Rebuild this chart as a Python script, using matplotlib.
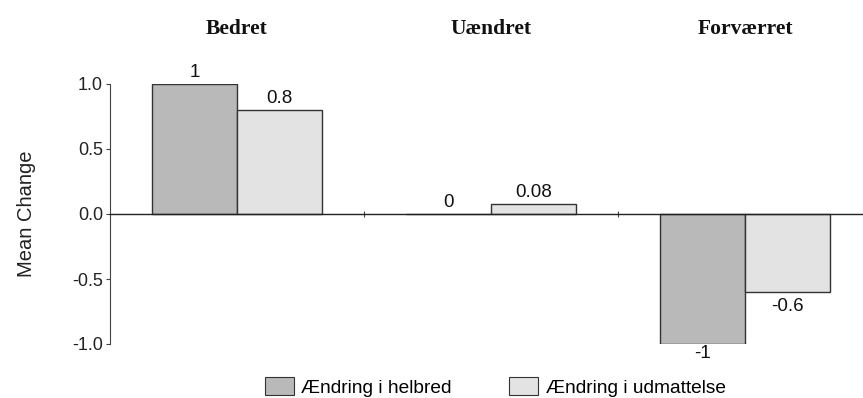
import matplotlib
matplotlib.use("Agg")
import matplotlib.pyplot as plt
import matplotlib.transforms as mtransforms
from matplotlib.patches import Patch
import numpy as np

categories = ["Bedret", "Uændret", "Forværret"]
series_names = ["Ændring i helbred", "Ændring i udmattelse"]
helbred = [1.0, 0.0, -1.0]
udmattelse = [0.8, 0.08, -0.6]
helbred_labels = ["1", "0", "-1"]
udmattelse_labels = ["0.8", "0.08", "-0.6"]
yticks = [-1.0, -0.5, 0.0, 0.5, 1.0]

W, H = 863, 398
fig = plt.figure(figsize=(W / 100, H / 100), dpi=100)
ax_left = 110 / W
ax_bottom = (H - 344) / H
ax_height = 260 / H
ax = fig.add_axes([ax_left, ax_bottom, 1 - ax_left, ax_height])

sans = "Liberation Sans"
c_dark = "#b9b9b9"
c_light = "#e3e3e3"
edge = "#333333"
bw = 0.335
x = np.arange(len(categories))

b1 = ax.bar(x - bw / 2, helbred, width=bw, color=c_dark, edgecolor=edge, linewidth=1.0, zorder=2)
b2 = ax.bar(x + bw / 2, udmattelse, width=bw, color=c_light, edgecolor=edge, linewidth=1.0, zorder=2)

for xi, v, lab in zip(x - bw / 2, helbred, helbred_labels):
    if v >= 0:
        ax.annotate(lab, (xi, v), xytext=(0, 2), textcoords="offset points",
                    ha="center", va="bottom", fontsize=13.5, family=sans, color="#111111")
    else:
        ax.annotate(lab, (xi, v), xytext=(0, -1), textcoords="offset points",
                    ha="center", va="top", fontsize=13.5, family=sans, color="#111111")
for xi, v, lab in zip(x + bw / 2, udmattelse, udmattelse_labels):
    if v >= 0:
        ax.annotate(lab, (xi, v), xytext=(0, 2), textcoords="offset points",
                    ha="center", va="bottom", fontsize=13.5, family=sans, color="#111111")
    else:
        ax.annotate(lab, (xi, v), xytext=(0, -4), textcoords="offset points",
                    ha="center", va="top", fontsize=13.5, family=sans, color="#111111")

ax.set_xlim(-0.5, -0.5 + (W - 110) / 254)
ax.set_ylim(-1.0, 1.0)
ax.spines["top"].set_visible(False)
ax.spines["right"].set_visible(False)
ax.spines["bottom"].set_position(("data", 0))
ax.spines["left"].set_color("#444444")
ax.spines["bottom"].set_color("#222222")
ax.spines["left"].set_linewidth(0.8)
ax.spines["bottom"].set_linewidth(1.0)
ax.set_xticks([0.5, 1.5])
ax.set_xticklabels([])
ax.tick_params(axis="x", direction="inout", length=5, color="#444444")
ax.set_yticks(yticks)
ax.set_yticklabels([f"{t:.1f}" for t in yticks], fontsize=13, family=sans, color="#222222")
ax.tick_params(axis="y", direction="out", length=3, color="#444444", pad=2)
ax.set_ylabel("Mean Change", fontsize=14.5, family=sans, color="#222222")
ax.yaxis.set_label_coords(-(110 - 36) / (W - 110), 0.5)

trans = mtransforms.blended_transform_factory(ax.transData, fig.transFigure)
for xi, cat in zip(x, categories):
    ax.text(xi, 1 - 29 / H, cat, transform=trans, ha="center", va="center",
            fontsize=15.5, fontweight="bold", family="Liberation Serif", color="#111111")

handles = [Patch(facecolor=c_dark, edgecolor=edge, linewidth=0.8),
           Patch(facecolor=c_light, edgecolor=edge, linewidth=0.8)]
fig.legend(handles, series_names, loc="center left",
           bbox_to_anchor=(265 / W, 1 - 387 / H), ncol=2, frameon=False,
           prop={"family": sans, "size": 13.8}, handlelength=1.5, handleheight=1.0,
           handletextpad=0.4, columnspacing=3.0, borderpad=0, borderaxespad=0)

fig.savefig("out.png", dpi=100, facecolor="white")
